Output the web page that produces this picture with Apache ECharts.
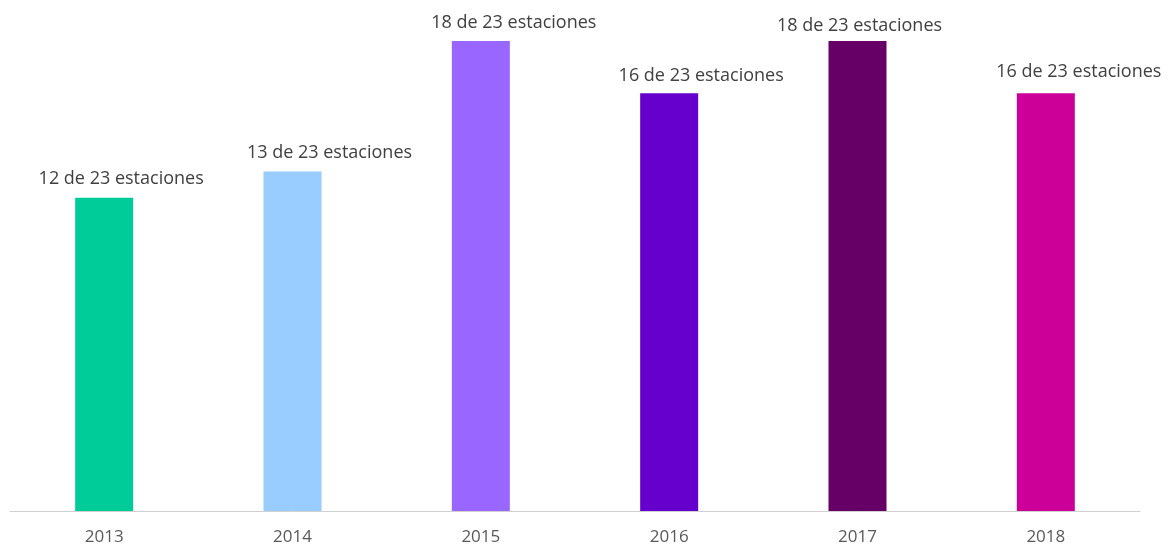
<!DOCTYPE html>
<html>
<head>
<meta charset="utf-8">
<script src="https://cdn.jsdelivr.net/npm/echarts@6/dist/echarts.min.js"></script>
<style>html,body{margin:0;padding:0;background:#fff}#c{width:1168px;height:544px}</style>
</head>
<body>
<div id="c"></div>
<script>
const categories = ['2013', '2014', '2015', '2016', '2017', '2018'];
const values = [12, 13, 18, 16, 18, 16];
const totalStations = 23;
const colors = ['#00CC99', '#99CCFF', '#9966FF', '#6600CC', '#660066', '#CC0099'];

// manual label nudges (as placed in the original chart)
const LABEL_NUDGE = [[17, -2], [37, -2], [33, -1], [32, 0], [2, 2], [33, -4]];

const chart = echarts.init(document.getElementById('c'));
chart.setOption({
  animation: false,
  grid: { left: 10, right: 28, top: 41, bottom: 33, containLabel: false, outerBoundsMode: 'none' },
  xAxis: {
    type: 'category',
    data: categories,
    axisLine: { lineStyle: { color: '#d0d0d0', width: 1 } },
    axisTick: { show: false },
    axisLabel: { color: '#595959', fontSize: 17, fontFamily: 'Open Sans', margin: 18 }
  },
  yAxis: { type: 'value', min: 0, max: 18, show: false, splitLine: { show: false } },
  series: [{
    type: 'bar',
    barWidth: 58,
    data: values.map((v, i) => ({
      value: v,
      itemStyle: { color: colors[i] },
      label: { offset: LABEL_NUDGE[i] }
    })),
    label: {
      show: true,
      position: 'top',
      distance: 8,
      color: '#404040',
      fontSize: 18,
      fontFamily: 'Open Sans',
      formatter: p => p.value + ' de ' + totalStations + ' estaciones'
    }
  }]
});
</script>
</body>
</html>
